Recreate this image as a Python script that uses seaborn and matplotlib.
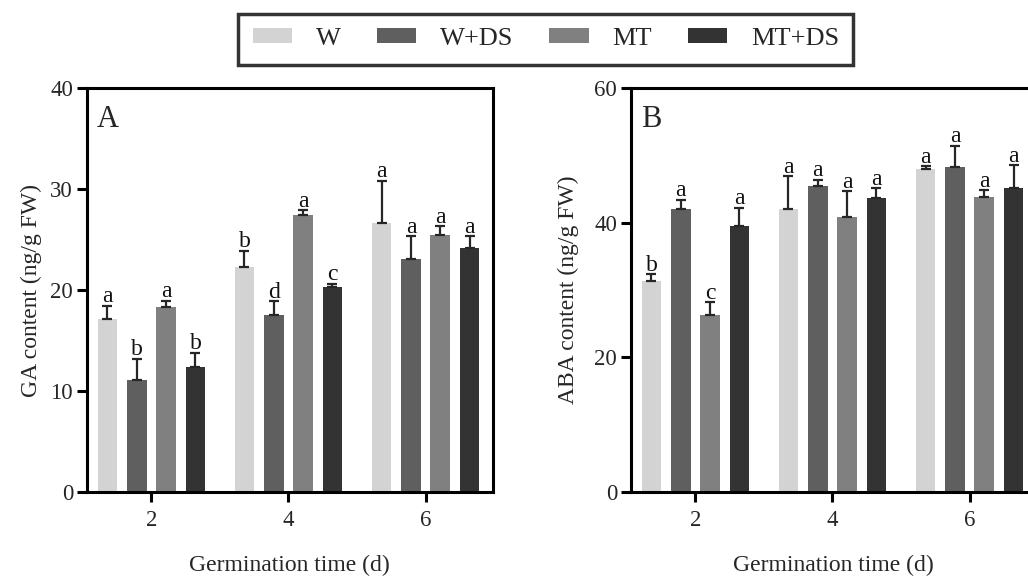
import numpy as np
import pandas as pd
import matplotlib
matplotlib.use('Agg')
import matplotlib.pyplot as plt
from matplotlib.patches import Patch
import seaborn as sns

# ---------------- data ----------------
days = ['2', '4', '6']
groups = ['W', 'W+DS', 'MT', 'MT+DS']
colors = ['#d3d3d3', '#5f5f5f', '#808080', '#333333']

# GA content (ng/g FW)
ga_w = [17.1, 22.3, 26.6]
ga_wds = [11.1, 17.5, 23.1]
ga_mt = [18.3, 27.4, 25.45]
ga_mtds = [12.35, 20.3, 24.2]
ga_w_err = [1.35, 1.6, 4.2]
ga_wds_err = [2.1, 1.4, 2.2]
ga_mt_err = [0.65, 0.5, 0.85]
ga_mtds_err = [1.45, 0.3, 1.1]
ga_w_let = ['a', 'b', 'a']
ga_wds_let = ['b', 'd', 'a']
ga_mt_let = ['a', 'a', 'a']
ga_mtds_let = ['b', 'c', 'a']

# ABA content (ng/g FW)
aba_w = [31.4, 42.1, 48.0]
aba_wds = [42.1, 45.5, 48.2]
aba_mt = [26.3, 40.85, 43.8]
aba_mtds = [39.5, 43.7, 45.2]
aba_w_err = [0.95, 4.8, 0.35]
aba_wds_err = [1.3, 0.9, 3.2]
aba_mt_err = [1.9, 3.85, 1.0]
aba_mtds_err = [2.7, 1.4, 3.3]
aba_w_let = ['b', 'a', 'a']
aba_wds_let = ['a', 'a', 'a']
aba_mt_let = ['c', 'a', 'a']
aba_mtds_let = ['a', 'a', 'a']

ga_ticks = [0, 10, 20, 30, 40]
aba_ticks = [0, 20, 40, 60]

# ---------------- style ----------------
sns.set_style('ticks')
plt.rcParams['font.family'] = ['Liberation Serif', 'DejaVu Serif']
plt.rcParams['axes.linewidth'] = 2.2
plt.rcParams['axes.edgecolor'] = 'black'

fig = plt.figure(figsize=(10.28, 5.77), dpi=100)
axA = fig.add_axes([0.0846, 0.1473, 0.3947, 0.7002])
axB = fig.add_axes([0.6138, 0.1473, 0.3947, 0.7002])


def panel(ax, means, errs, letters, ylabel, ymax, yticks, tag, ypad):
    rows = []
    for g, m in zip(groups, means):
        for d, v in zip(days, m):
            rows.append({'day': d, 'group': g, 'value': v})
    df = pd.DataFrame(rows)
    sns.barplot(data=df, x='day', y='value', hue='group', order=days,
                hue_order=groups, palette=colors, width=0.856, gap=0.33,
                saturation=1, errorbar=None, linewidth=0, legend=False, ax=ax)
    for cont, e_list, l_list in zip(ax.containers, errs, letters):
        for patch, e, lab in zip(cont.patches, e_list, l_list):
            x = patch.get_x() + patch.get_width() / 2
            top = patch.get_height()
            ax.errorbar(x, top, yerr=[[0], [e]], fmt='none', ecolor='#262626',
                        elinewidth=1.6, capsize=3.6, capthick=1.6, zorder=3)
            ax.annotate(lab, (x, top + e), xytext=(0, 2.5),
                        textcoords='offset points', ha='center',
                        va='baseline', fontsize=17, color='#111111')
    ax.set_xlim(-0.47, 2.49)
    ax.set_ylim(0, ymax)
    ax.set_yticks(yticks)
    ax.set_xlabel('Germination time (d)', fontsize=17, labelpad=17)
    ax.set_ylabel(ylabel, fontsize=17, labelpad=ypad)
    ax.tick_params(axis='both', length=7, width=2.2, labelsize=16.5,
                   direction='out', color='black', pad=3)
    ax.tick_params(axis='x', pad=6)
    for s in ax.spines.values():
        s.set_visible(True)
        s.set_linewidth(2.2)
        s.set_color('black')
    ax.text(0.025, 0.903, tag, transform=ax.transAxes, fontsize=22,
            ha='left', va='baseline')


panel(axA, [ga_w, ga_wds, ga_mt, ga_mtds],
      [ga_w_err, ga_wds_err, ga_mt_err, ga_mtds_err],
      [ga_w_let, ga_wds_let, ga_mt_let, ga_mtds_let],
      'GA content (ng/g FW)', 40, ga_ticks, 'A', 6)
panel(axB, [aba_w, aba_wds, aba_mt, aba_mtds],
      [aba_w_err, aba_wds_err, aba_mt_err, aba_mtds_err],
      [aba_w_let, aba_wds_let, aba_mt_let, aba_mtds_let],
      'ABA content (ng/g FW)', 60, aba_ticks, 'B', 11)

handles = [Patch(facecolor=c, edgecolor='none', label=g) for c, g in zip(colors, groups)]
leg = fig.legend(handles=handles, loc='center', bbox_to_anchor=(0.531, 0.932),
                 ncol=4, frameon=True, fancybox=False, edgecolor='black',
                 fontsize=19, handlelength=1.5, handleheight=0.5,
                 handletextpad=0.9, columnspacing=1.35, borderpad=0.55)
leg.get_frame().set_linewidth(2.5)

fig.savefig('out.png', dpi=100)
